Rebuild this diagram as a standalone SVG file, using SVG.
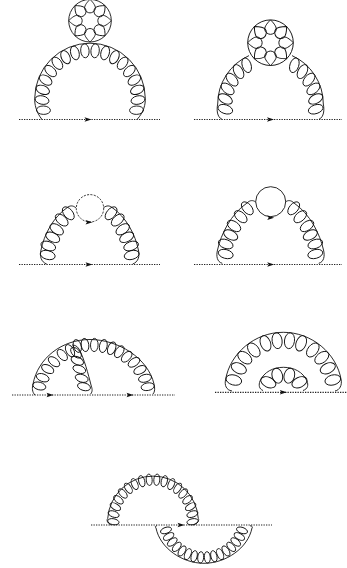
<svg xmlns="http://www.w3.org/2000/svg" width="347" height="568" viewBox="0 0 347 568">
<style>
.g{fill:none;stroke:#111;stroke-width:.9}
.d{fill:none;stroke:#222;stroke-width:1.2;stroke-dasharray:1.3 1.2}
</style>
<defs>
<path id="a" d="M-3.5,-2.3L3.5,0L-3.5,2.3L-2,0Z" fill="#111"/>
<ellipse id="e" class="g" rx="4.2" ry="7"/>
<ellipse id="f" class="g" rx="4.4" ry="7.6"/>
<ellipse id="k" class="g" rx="3.8" ry="6.6"/>
<ellipse id="m" class="g" rx="5" ry="8"/>
<ellipse id="s" class="g" rx="3" ry="5.7"/>
<path id="p" class="g" d="M0,-21.3C-1.8,-19.5 -5.8,-15.5 -5.4,-12.2C-5,-9.4 -2,-7.8 0,-7.8C2,-7.8 5,-9.4 5.4,-12.2C5.8,-15.5 1.8,-19.5 0,-21.3Z"/>
<g id="b"><circle class="g" r="21.3"/><use href="#p"/><use href="#p" transform="rotate(45)"/><use href="#p" transform="rotate(90)"/><use href="#p" transform="rotate(135)"/><use href="#p" transform="rotate(180)"/><use href="#p" transform="rotate(225)"/><use href="#p" transform="rotate(270)"/><use href="#p" transform="rotate(315)"/></g>
<g id="h1">
<use href="#e" transform="rotate(6.1) translate(0,-48) rotate(-1)"/>
<use href="#e" transform="rotate(18.35) translate(0,-48) rotate(-3)"/>
<use href="#e" transform="rotate(30.6) translate(0,-48) rotate(-5)"/>
<use href="#e" transform="rotate(42.85) translate(0,-48) rotate(-6)"/>
<use href="#e" transform="rotate(55.1) translate(0,-48) rotate(-8)"/>
<use href="#e" transform="rotate(67.35) translate(0,-48) rotate(-10)"/>
<use href="#e" transform="rotate(79.6) translate(0,-48) rotate(-12)"/>
<use href="#e" transform="rotate(91.85) translate(0,-48) rotate(-14)"/>
<use href="#e" transform="rotate(104.1) translate(0,-48) rotate(-16)"/>
</g>
<g id="h2">
<use href="#f" transform="rotate(31.6) translate(0,-45.5) rotate(-13)"/>
<use href="#f" transform="rotate(44.6) translate(0,-45.5) rotate(-15)"/>
<use href="#f" transform="rotate(57.6) translate(0,-45.5) rotate(-17)"/>
<use href="#f" transform="rotate(70.6) translate(0,-45.5) rotate(-19)"/>
<use href="#f" transform="rotate(83.6) translate(0,-45.5) rotate(-21)"/>
<use href="#f" transform="rotate(96.6) translate(0,-45.5) rotate(-25)"/>
</g>
<g id="h3">
<use href="#f" transform="translate(47.7,255) rotate(-75)"/>
<use href="#f" transform="translate(48.3,246) rotate(-70)"/>
<use href="#f" transform="translate(52.7,237.3) rotate(-62)"/>
<use href="#f" transform="translate(56.7,229.3) rotate(-55)"/>
<use href="#f" transform="translate(61.7,220) rotate(-48)"/>
<use href="#f" transform="translate(68.3,213.3) rotate(-40)"/>
<path class="g" d="M46.7,264C41,262 39.5,256 41,250C44,235 53,217 68,207C71,205 74,206 76,208"/>
</g>
<g id="h4">
<use href="#f" transform="translate(225.7,254) rotate(-75)"/>
<use href="#f" transform="translate(225.7,244) rotate(-70)"/>
<use href="#f" transform="translate(230.7,235) rotate(-62)"/>
<use href="#f" transform="translate(234,226) rotate(-55)"/>
<use href="#f" transform="translate(240.7,216.7) rotate(-48)"/>
<use href="#f" transform="translate(247.3,208.3) rotate(-40)"/>
<path class="g" d="M222.3,263.3C217,262 216,256 217.5,250C221,234 231,214 247,203C250,200 253,200 255.7,202"/>
</g>
<g id="h6">
<use href="#m" transform="translate(6.2,340.7) rotate(8)"/>
<use href="#m" transform="translate(17.8,343.3) rotate(22)"/>
<use href="#m" transform="translate(29.5,350) rotate(38)"/>
<use href="#m" transform="translate(38.5,357.7) rotate(52)"/>
<use href="#m" transform="translate(44.5,368.3) rotate(65)"/>
<use href="#m" transform="translate(49.5,380) rotate(75)"/>
</g>
<g id="h7">
<use href="#s" transform="rotate(5.5) translate(0,-39.7) rotate(-1)"/>
<use href="#s" transform="rotate(16.5) translate(0,-39.7) rotate(-2)"/>
<use href="#s" transform="rotate(27.5) translate(0,-39.7) rotate(-4)"/>
<use href="#s" transform="rotate(38.5) translate(0,-39.7) rotate(-6)"/>
<use href="#s" transform="rotate(49.5) translate(0,-39.7) rotate(-7)"/>
<use href="#s" transform="rotate(60.5) translate(0,-39.7) rotate(-9)"/>
<use href="#s" transform="rotate(71.5) translate(0,-39.7) rotate(-11)"/>
<use href="#s" transform="rotate(82.5) translate(0,-39.7) rotate(-12)"/>
<use href="#s" transform="rotate(93.5) translate(0,-39.7) rotate(-14)"/>
</g>
<g id="h8">
<use href="#s" transform="rotate(4.73) translate(0,40.2)"/>
<use href="#s" transform="rotate(14.2) translate(0,40.2)"/>
<use href="#s" transform="rotate(23.7) translate(0,40.2)"/>
<use href="#s" transform="rotate(33.1) translate(0,40.2)"/>
<use href="#s" transform="rotate(42.6) translate(0,40.2)"/>
<use href="#s" transform="rotate(52.1) translate(0,40.2)"/>
<use href="#s" transform="rotate(61.5) translate(0,40.2)"/>
<use href="#s" transform="rotate(71) translate(0,40.2)"/>
</g>
</defs>
<g id="connectors">
<path class="d" d="M19,119.5H160M194,119.5H342M19,264.5H160M194,264.5H342M12,395H175M215,392.3H347M91,525H272"/>
</g>
<g id="n1">
<use href="#a" x="88" y="119.5"/>
<use href="#b" transform="translate(90,20.7)"/>
<path class="g" d="M42,119.5C36,112 34.5,104 34.7,98.5A55.3,55.3 0 0 1 145.3,98.5C145.5,104 144,112 137,119.5"/>
<use href="#h1" transform="translate(90,98.5)"/>
<use href="#h1" transform="translate(90,98.5) scale(-1,1)"/>
</g>
<g id="n2">
<use href="#a" x="270.5" y="119.5"/>
<use href="#b" transform="translate(270.5,42.7) scale(1.07)"/>
<path class="g" d="M222,119.3C217,117 216.5,110 217.7,104A53,53 0 0 1 249,55.6M319,119.3C324,117 324.5,110 323.3,104A53,53 0 0 0 292,55.6"/>
<use href="#h2" transform="translate(270.5,104)"/>
<use href="#h2" transform="translate(270.5,104) scale(-1,1)"/>
</g>
<g id="n3">
<use href="#a" x="89" y="264.5"/>
<circle class="g" cx="90" cy="208.3" r="13.7" stroke-dasharray="2 1.4"/>
<use href="#a" x="89" y="222.3"/>
<use href="#h3"/>
<use href="#h3" transform="translate(179.4,0) scale(-1,1)"/>
</g>
<g id="n4">
<use href="#a" x="270.7" y="264.5"/>
<circle class="g" cx="270.7" cy="201.7" r="15"/>
<use href="#a" x="270.7" y="217.7"/>
<use href="#h4"/>
<use href="#h4" transform="translate(541,0) scale(-1,1)"/>
</g>
<g id="n5">
<use href="#a" x="50" y="395"/>
<use href="#a" x="130" y="395"/>
<path class="g" d="M35,395C32,392 32,388 33,384C38,358 62,339.5 90,339.5C118,339.5 148,358 154,384C155,388 155,392 153,394"/>
<use href="#k" transform="translate(39.3,386) rotate(-75)"/>
<use href="#k" transform="translate(42.7,377.7) rotate(-70)"/>
<use href="#k" transform="translate(47.7,369) rotate(-62)"/>
<use href="#k" transform="translate(54,361.7) rotate(-52)"/>
<use href="#k" transform="translate(62.3,355) rotate(-40)"/>
<use href="#k" transform="translate(70,350.7) rotate(-30)"/>
<use href="#k" transform="translate(77.3,346) rotate(-18)"/>
<use href="#k" transform="translate(85,345) rotate(-8)"/>
<use href="#k" transform="translate(94.3,345) rotate(2)"/>
<use href="#k" transform="translate(103.3,346) rotate(12)"/>
<use href="#k" transform="translate(111.7,348.3) rotate(22)"/>
<use href="#k" transform="translate(119.3,351.7) rotate(33)"/>
<use href="#k" transform="translate(126.7,356.7) rotate(44)"/>
<use href="#k" transform="translate(134,362.3) rotate(55)"/>
<use href="#k" transform="translate(140,370) rotate(65)"/>
<use href="#k" transform="translate(145,378.3) rotate(75)"/>
<use href="#k" transform="translate(147.7,386.7) rotate(80)"/>
<path class="g" d="M90.7,394C93,391 92,388 91,385C88.5,375 84,358 79,349C77,346 75,345 72,345"/>
<use href="#k" transform="translate(84,386.7) rotate(-75)"/>
<use href="#k" transform="translate(81.7,378.3) rotate(-73)"/>
<use href="#k" transform="translate(79.3,369.3) rotate(-70)"/>
<use href="#k" transform="translate(77.3,360.7) rotate(-65)"/>
<use href="#k" transform="translate(76,352.7) rotate(-45)"/>
</g>
<g id="n6">
<use href="#a" x="283.3" y="392.3"/>
<path class="g" d="M232,391C226,390 224.5,385 225.5,380C230,353 255,332.3 283.3,332.3C311.6,332.3 336.6,353 341.2,380C342,385 340,390 335,391"/>
<use href="#h6" transform="translate(283.3,0)"/>
<use href="#h6" transform="translate(283.3,0) scale(-1,1)"/>
<path class="g" d="M263,390.5C259,389 258.5,385 260,381C264,372 273,367.3 283.5,367.3C294,367.3 303,372 307,381C308.5,385 308,389 303,390.5"/>
<use href="#m" transform="translate(268.3,382.3) rotate(-65)"/>
<use href="#m" transform="translate(277.3,375.7) rotate(-15) scale(1.05,.95)"/>
<use href="#m" transform="translate(289.3,375.7) rotate(15) scale(1.05,.95)"/>
<use href="#m" transform="translate(299.5,382.3) rotate(65)"/>
</g>
<g id="n7">
<use href="#a" x="181" y="525"/>
<path class="g" d="M111,525C107,523 106.5,520 107.7,518.5A45.4,45.4 0 0 1 198.3,518.5C199.5,520 198,523 193.3,525"/>
<use href="#h7" transform="translate(153,519.3)"/>
<use href="#h7" transform="translate(153,519.3) scale(-1,1)"/>
<path class="g" d="M157,525.7C155,526 155,527 156,528C160,548 182,563.3 204,563.3C226,563.3 248,548 252,528C253,527 252,526 250,525.7"/>
<use href="#h8" transform="translate(204,517.3)"/>
<use href="#h8" transform="translate(204,517.3) scale(-1,1)"/>
</g>
</svg>
